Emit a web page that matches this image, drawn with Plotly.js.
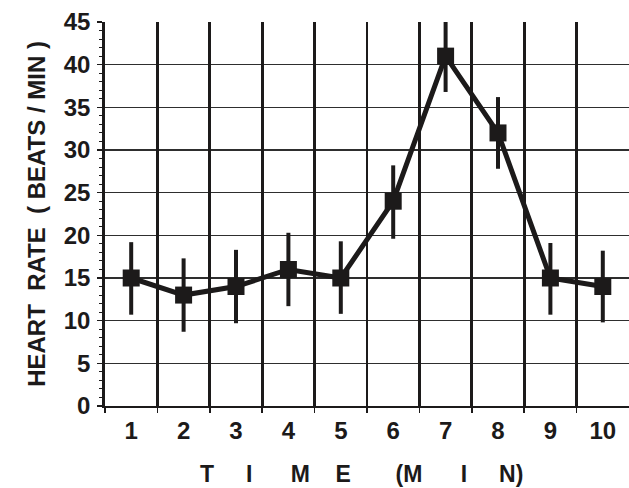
<!DOCTYPE html>
<html><head><meta charset="utf-8">
<script src="https://cdn.plot.ly/plotly-3.0.1.min.js"></script>
<style>html,body{margin:0;padding:0;background:#fff}#c{width:629px;height:488px}</style>
</head><body><div id="c"></div>
<script>
const minutes = [1,2,3,4,5,6,7,8,9,10];
const heartRate = [15,13,14,16,15,24,41,32,15,14];
const errPlus  = [4.2,4.3,4.3,4.3,4.3,4.2,4.2,4.2,4.1,4.2];
const errMinus = [4.3,4.3,4.3,4.3,4.2,4.4,4.2,4.2,4.3,4.2];
const xTickLabels = ['1','2','3','4','5','6','7','8','9','10'];
const xBoundaries = [0.5,1.5,2.5,3.5,4.5,5.5,6.5,7.5,8.5,9.5];
const yTicks = [0,5,10,15,20,25,30,35,40,45];

const ink = '#1c1a1a';
const fontFam = 'Liberation Sans, Arial, sans-serif';
const nb = n => '\u00A0'.repeat(n);

const trace = {
  x: minutes, y: heartRate, type: 'scatter', mode: 'lines+markers',
  line: {color: ink, width: 5},
  marker: {symbol: 'square', size: 17, color: ink},
  error_y: {type: 'data', symmetric: false, array: errPlus, arrayminus: errMinus,
            color: ink, thickness: 4, width: 0},
  cliponaxis: false, showlegend: false, hoverinfo: 'none'
};
const anchorTrace = {x: [0.5], y: [0], xaxis: 'x2', mode: 'markers', marker: {opacity: 0}, showlegend: false, hoverinfo: 'none'};

const layout = {
  width: 629, height: 488,
  margin: {l: 105, r: 0, t: 22, b: 82},
  paper_bgcolor: '#fff', plot_bgcolor: '#fff',
  font: {family: fontFam, color: ink},
  xaxis: {
    range: [0.5, 10.5], tickvals: minutes, ticktext: xTickLabels,
    showgrid: false, zeroline: false, showline: true, linecolor: ink, linewidth: 2,
    ticks: '', ticklabelstandoff: 2,
    tickfont: {family: fontFam, size: 24, weight: 'bold', color: ink}
  },
  xaxis2: {
    overlaying: 'x', matches: 'x', range: [0.5, 10.5], side: 'bottom',
    tickvals: xBoundaries, showticklabels: false,
    ticks: 'outside', ticklen: 6, tickwidth: 1.5, tickcolor: ink,
    showgrid: true, gridcolor: ink, gridwidth: 2.8, zeroline: false, showline: false
  },
  yaxis: {
    range: [0, 45], tickvals: yTicks,
    showgrid: true, gridcolor: '#2e2e2e', gridwidth: 1.6, zeroline: false,
    showline: true, linecolor: ink, linewidth: 2.8,
    ticks: 'outside', ticklen: 5, tickwidth: 1.5, tickcolor: ink,
    minor: {dtick: 1, ticks: 'outside', ticklen: 3, tickwidth: 1, tickcolor: ink, showgrid: false},
    tickfont: {family: fontFam, size: 24, weight: 'bold', color: ink},
    ticklabelstandoff: 2,
    title: {text: 'HEART' + nb(2) + 'RATE' + nb(2) + '(' + nb(1) + 'BEATS / MIN' + nb(1) + ')', standoff: 12,
            font: {family: fontFam, size: 24, weight: 'bold', color: ink}}
  },
  annotations: [{
    text: 'T' + nb(5) + 'I' + nb(6) + 'M' + nb(4) + 'E' + nb(7) + '(' + 'M' + nb(6) + 'I' + nb(5) + 'N' + ')',
    xref: 'paper', yref: 'paper', x: 0.4895, y: 0, xanchor: 'center', yanchor: 'middle',
    yshift: -68, showarrow: false,
    font: {family: fontFam, size: 23, weight: 'bold', color: ink}
  }]
};

Plotly.newPlot('c', [anchorTrace, trace], layout, {staticPlot: true, displayModeBar: false});
</script></body></html>
